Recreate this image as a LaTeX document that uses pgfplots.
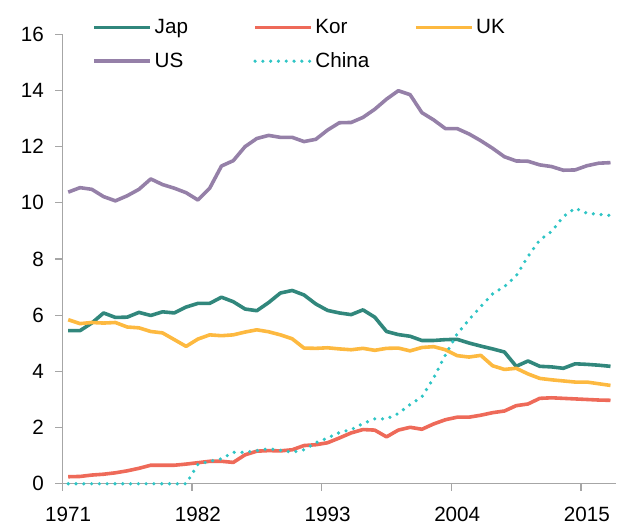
\documentclass[border=0pt]{standalone}
\usepackage{pgfplots}
\pgfplotsset{compat=1.18}
\usepackage{pgfplotstable}
\usepackage{fontspec}
\setmainfont{Liberation Sans}

\definecolor{japc}{HTML}{31877C}
\definecolor{korc}{HTML}{EE6A59}
\definecolor{ukc}{HTML}{FDB940}
\definecolor{usc}{HTML}{9580A8}
\definecolor{chc}{HTML}{2FC5C5}
\definecolor{axc}{HTML}{A6A6A6}

\pgfplotstableread{
year jap  kor  uk   us    china
1971 5.45 0.25 5.84 10.38 0
1972 5.45 0.26 5.70 10.54 0
1973 5.72 0.31 5.74 10.48 0
1974 6.08 0.34 5.72 10.22 0
1975 5.92 0.39 5.74 10.07 0
1976 5.93 0.46 5.58 10.25 0
1977 6.10 0.55 5.55 10.48 0
1978 5.99 0.66 5.42 10.85 0
1979 6.12 0.66 5.37 10.65 0
1980 6.08 0.66 5.13 10.52 0
1981 6.29 0.70 4.89 10.36 0
1982 6.42 0.75 5.15 10.10 0.69
1983 6.42 0.80 5.30 10.52 0.80
1984 6.64 0.80 5.27 11.31 0.89
1985 6.48 0.76 5.30 11.50 1.12
1986 6.22 1.03 5.40 12.00 1.12
1987 6.16 1.16 5.48 12.29 1.18
1988 6.45 1.18 5.41 12.40 1.25
1989 6.79 1.17 5.30 12.33 1.19
1990 6.88 1.21 5.16 12.33 1.12
1991 6.72 1.36 4.83 12.18 1.21
1992 6.40 1.39 4.82 12.26 1.46
1993 6.17 1.46 4.84 12.59 1.63
1994 6.08 1.63 4.80 12.85 1.82
1995 6.02 1.81 4.77 12.86 1.93
1996 6.19 1.93 4.82 13.04 2.14
1997 5.93 1.91 4.75 13.33 2.31
1998 5.42 1.67 4.82 13.69 2.31
1999 5.31 1.91 4.83 13.99 2.50
2000 5.25 2.01 4.73 13.85 2.82
2001 5.10 1.94 4.85 13.21 3.09
2002 5.10 2.13 4.88 12.95 3.77
2003 5.13 2.28 4.77 12.64 4.59
2004 5.14 2.37 4.56 12.64 5.34
2005 5.01 2.37 4.51 12.45 5.84
2006 4.90 2.44 4.57 12.21 6.31
2007 4.80 2.53 4.20 11.94 6.76
2008 4.69 2.59 4.07 11.64 7.02
2009 4.18 2.78 4.11 11.49 7.40
2010 4.37 2.84 3.91 11.48 8.09
2011 4.18 3.04 3.75 11.35 8.68
2012 4.16 3.06 3.70 11.29 8.98
2013 4.11 3.04 3.66 11.16 9.51
2014 4.27 3.02 3.62 11.17 9.81
2015 4.25 3.00 3.62 11.32 9.63
2016 4.22 2.98 3.56 11.41 9.59
2017 4.18 2.97 3.50 11.43 9.55
}\datatable

\newcommand{\lgtext}[1]{\makebox[72pt][l]{#1}}

\begin{document}
\begin{tikzpicture}
\begin{axis}[
    scale only axis,
    width=416pt,
    height=337.5pt,
    xmin=1970.5, xmax=2017.5,
    ymin=0, ymax=16,
    axis lines=left,
    axis line style={-, axc, line width=0.9pt},
    tick style={axc, line width=0.9pt},
    tick align=outside,
    major tick length=5.3pt,
    xtick={1970.5,1981.5,1992.5,2003.5,2014.5},
    xticklabels={1971,1982,1993,2004,2015},
    xticklabel style={xshift=4.4pt, yshift=-9pt},
    ytick={0,2,...,16},
    yticklabel style={xshift=-5pt},
    /pgf/number format/assume math mode=true,
    tick label style={font=\fontsize{15.5}{18}\selectfont, text=black},
    clip=false,
    every axis plot/.append style={line width=2.7pt, line join=round},
    legend columns=3,
    legend cell align=left,
    legend image code/.code={\draw[#1] (0pt,0pt) -- (42pt,0pt);},
    legend style={draw=none, fill=none, at={(0.054,1.04)}, anchor=north west,
        font=\fontsize{15.5}{18}\selectfont, inner sep=0pt, row sep=9pt},
]
\addplot[japc] table[x=year,y=jap] {\datatable};
\addplot[korc] table[x=year,y=kor] {\datatable};
\addplot[ukc] table[x=year,y=uk] {\datatable};
\addplot[usc] table[x=year,y=us] {\datatable};
\addplot[chc, line cap=round, dash pattern=on 0pt off 5.85pt] table[x=year,y=china] {\datatable};
\legend{\lgtext{Jap},\lgtext{Kor},\lgtext{UK},\lgtext{US},\lgtext{China}}
\path (rel axis cs:-0.1125,-0.0904) rectangle (rel axis cs:1,1.0762);
\end{axis}
\end{tikzpicture}
\end{document}
